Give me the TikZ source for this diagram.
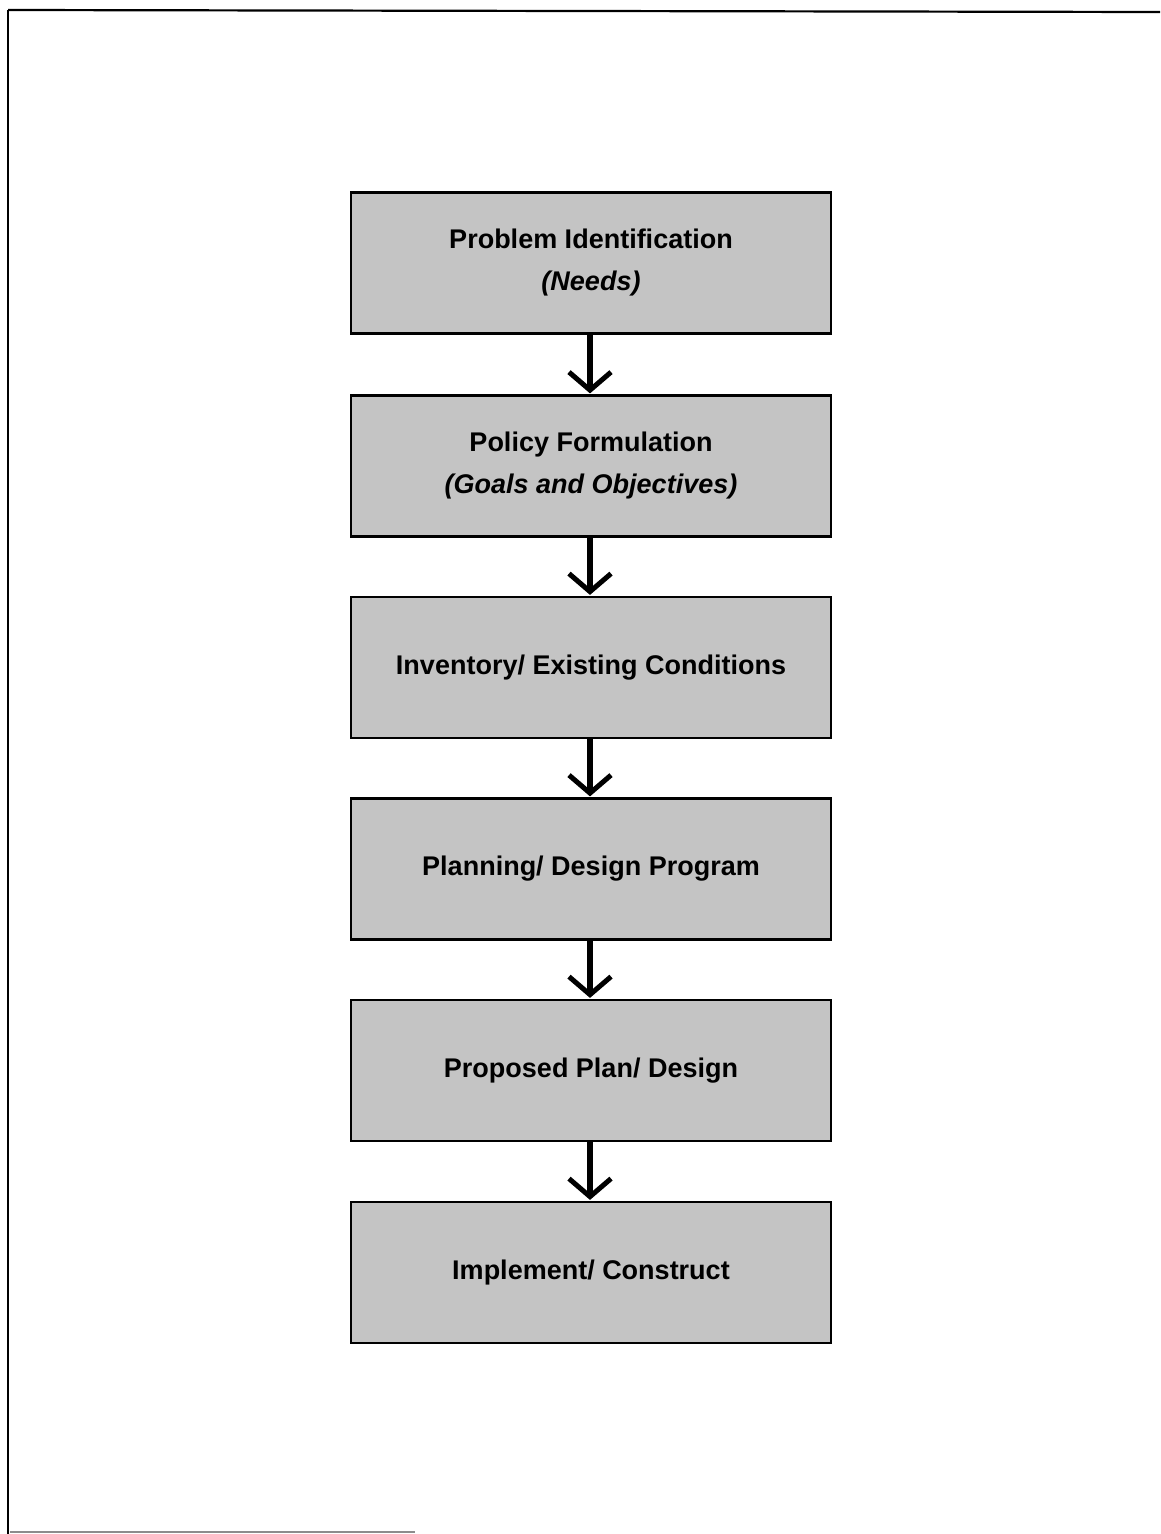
\documentclass[tikz,border=0pt]{standalone}
\usepackage{fontspec}
\setmainfont{Liberation Sans}
\usetikzlibrary{arrows.meta}
\definecolor{boxgray}{RGB}{196,196,196}
\tikzset{
  stepbox/.style={draw=black, line width=2.2pt, fill=boxgray, minimum width=480pt, minimum height=141pt,
    align=center, inner sep=0pt, font=\fontsize{27}{42}\selectfont\bfseries},
  flow/.style={line width=5.5pt, -{Straight Barb[length=18pt,width=42pt,line width=5pt]}, shorten >=1pt},
  frameline/.style={line width=2.2pt, black}
}
\begin{document}
\begin{tikzpicture}[x=1pt,y=-1pt]
\useasboundingbox (0,0) rectangle (1160,1534);
\fill[white] (0,0) rectangle (1160,1534);
% page frame
\draw[frameline] (8,10) -- (1160,12);
\draw[frameline] (8,10) -- (8,1534);
\draw[line width=2pt, black!45] (10,1532) -- (415,1532);
% boxes
\node[stepbox] (b1) at (591,263) {Problem Identification\\\textit{(Needs)}};
\node[stepbox] (b2) at (591,466) {Policy Formulation\\\textit{(Goals and Objectives)}};
\node[stepbox] (b3) at (591,667.5) {Inventory/ Existing Conditions};
\node[stepbox] (b4) at (591,869) {Planning/ Design Program};
\node[stepbox] (b5) at (591,1070.5) {Proposed Plan/ Design};
\node[stepbox] (b6) at (591,1272.5) {Implement/ Construct};
% arrows
\draw[flow] (b1.south -| 590,0) -- (b2.north -| 590,0);
\draw[flow] (b2.south -| 590,0) -- (b3.north -| 590,0);
\draw[flow] (b3.south -| 590,0) -- (b4.north -| 590,0);
\draw[flow] (b4.south -| 590,0) -- (b5.north -| 590,0);
\draw[flow] (b5.south -| 590,0) -- (b6.north -| 590,0);
\end{tikzpicture}
\end{document}
